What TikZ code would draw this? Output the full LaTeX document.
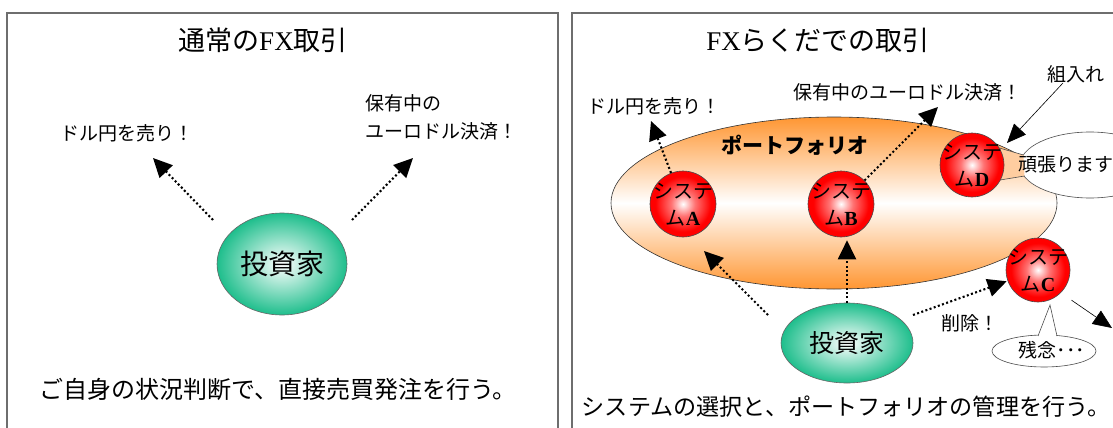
\documentclass[tikz,border=0pt]{standalone}
\usepackage{fontspec}
\setmainfont{Noto Sans CJK JP}
\newfontfamily\lser{Liberation Serif}
\usetikzlibrary{shapes.geometric,arrows.meta}
\definecolor{orng}{RGB}{255,150,50}
\definecolor{grn}{RGB}{30,190,140}
\definecolor{frm}{RGB}{110,110,110}
\definecolor{peach}{RGB}{255,205,160}
\pgfdeclareradialshading{redball}{\pgfpoint{0bp}{0bp}}{color(0bp)=(white); color(9bp)=(red!55!white); color(21bp)=(red); color(50bp)=(red)}
\pgfdeclareradialshading{greenball}{\pgfpoint{0bp}{0bp}}{color(0bp)=(white); color(25bp)=(grn); color(50bp)=(grn)}
\tikzset{
  frame/.style={draw=frm, line width=1.3pt},
  ball/.style={circle, draw=black!70, line width=0.6pt, shading=redball, minimum size=66pt, inner sep=0pt},
  inv/.style={ellipse, draw=black!60, line width=0.6pt, shading=greenball, inner sep=0pt},
  dotarr/.style={line width=2.1pt, dash pattern=on 2pt off 2.4pt, -{Triangle[length=19pt,width=18pt]}},
  solarr/.style={line width=0.6pt, -{Triangle[length=19pt,width=16pt]}},
  lbl/.style={font=\fontsize{19}{24}\selectfont, inner sep=0pt},
  ttl/.style={font=\fontsize{27}{32}\selectfont, inner sep=0pt},
  foot/.style={font=\fontsize{24}{28}\selectfont, inner sep=0pt},
  balltxt/.style={font=\fontsize{20}{27}\selectfont, align=center, inner sep=0pt},
  callout/.style={ellipse, draw=black!70, line width=0.6pt, fill=white, inner sep=0pt},
}
\begin{document}
\begin{tikzpicture}[x=1pt,y=-1pt]
\useasboundingbox (0,0) rectangle (1113,428);
% frames
\draw[frame] (7,440) -- (7,13) -- (558,13) -- (558,440);
\draw[frame] (572,440) -- (572,13) -- (1125,13);

% ---------- left panel ----------
\node[ttl] (t1) at (263,40) {通常の{\lser FX}取引};
\node[lbl] (l1) at (127,133) {ドル円を売り！};
\node[lbl, anchor=west, align=left, font=\fontsize{19}{28}\selectfont] (l2) at (365,117) {保有中の\\ユーロドル決済！};
\node[inv, minimum width=130pt, minimum height=102pt, font=\fontsize{28}{32}\selectfont] (i1) at (282,264) {投資家};
\coordinate (i1a) at (213,220);
\coordinate (i1b) at (153,158);
\coordinate (i1c) at (352,220);
\coordinate (i1d) at (413,158);
\draw[dotarr] (i1a) -- (i1b);
\draw[dotarr] (i1c) -- (i1d);
\node[foot] (f1) at (278,389) {ご自身の状況判断で、直接売買発注を行う。};

% ---------- right panel ----------
\node[ttl] (t2) at (818,40) {{\lser FX}らくだでの取引};
\node[ellipse, draw=black!80, line width=0.6pt, minimum width=446pt, minimum height=172pt,
      top color=orng, bottom color=orng, middle color=white, inner sep=0pt] (P) at (834,203) {};
\node[font=\fontsize{21}{24}\selectfont\bfseries, inner sep=0pt] (Pl) at (795,145) {ポートフォリオ};

% callout "頑張ります"
\node[callout, minimum width=140pt, minimum height=66pt] (cg) at (1090,165) {};
\fill[peach] (996,147) -- (1023.5,155) -- (1024.5,176) -- (1000,180) -- cycle;
\draw[black!70, line width=0.6pt] (996,147) -- (1023.5,155) (1024.5,176) -- (1000,180);
\node[lbl] (cgt) at (1066,165) {頑張ります};

% systems
\node[ball] (A) at (683,204) {};
\node[balltxt] (At) at (683,205) {システ\\ム{\lser\bfseries A}};
\node[ball] (B) at (841,204) {};
\node[balltxt] (Bt) at (841,205) {システ\\ム{\lser\bfseries B}};
\node[ball, minimum size=64pt] (D) at (972,165) {};
\node[balltxt] (Dt) at (972,166) {システ\\ム{\lser\bfseries D}};
\node[ball, minimum size=64pt] (C) at (1038,270) {};
\node[balltxt] (Ct) at (1038,271) {システ\\ム{\lser\bfseries C}};

% labels
\node[lbl] (r1) at (654,106) {ドル円を売り！};
\node[lbl] (r2) at (907,92) {保有中のユーロドル決済！};
\node[lbl, anchor=west] (kumi) at (1047,74) {組入れ};
\node[lbl] (sak) at (970,323) {削除！};

% callout "残念･･･"
\node[callout, minimum width=104pt, minimum height=32pt] (cz) at (1044,351) {};
\fill[white] (1038,338) -- (1050,305) -- (1057,338) -- cycle;
\draw[black!70, line width=0.6pt] (1038,336) -- (1050,305) -- (1057,336);
\node[lbl] (czt) at (1052,350) {残念･･･};

% investor
\node[inv, minimum width=132pt, minimum height=80pt, font=\fontsize{25}{30}\selectfont] (i2) at (847,343) {投資家};

\node[foot, font=\fontsize{23.1}{27}\selectfont] (f2) at (846,407) {システムの選択と、ポートフォリオの管理を行う。};

% arrows
\coordinate (tA) at (651,121);
\draw[dotarr] (A) -- (tA);
\coordinate (tB) at (938,107);
\draw[dotarr] (B) -- (tB);
\coordinate (s1) at (768,315);
\coordinate (tA2) at (704,251);
\draw[dotarr] (s1) -- (tA2);
\draw[dotarr, shorten >=3pt] (i2.north) -- (i2.north |- B.south);
\coordinate (s3) at (913,315);
\draw[dotarr, shorten >=1pt] (s3) -- (C);
\coordinate (kT) at (1007,143);
\draw[solarr] ([xshift=16pt]kumi.south west) -- (kT);
\coordinate (cT) at (1112,328);
\draw[solarr, shorten <=13pt] (C.south east) -- (cT);
\end{tikzpicture}
\end{document}
